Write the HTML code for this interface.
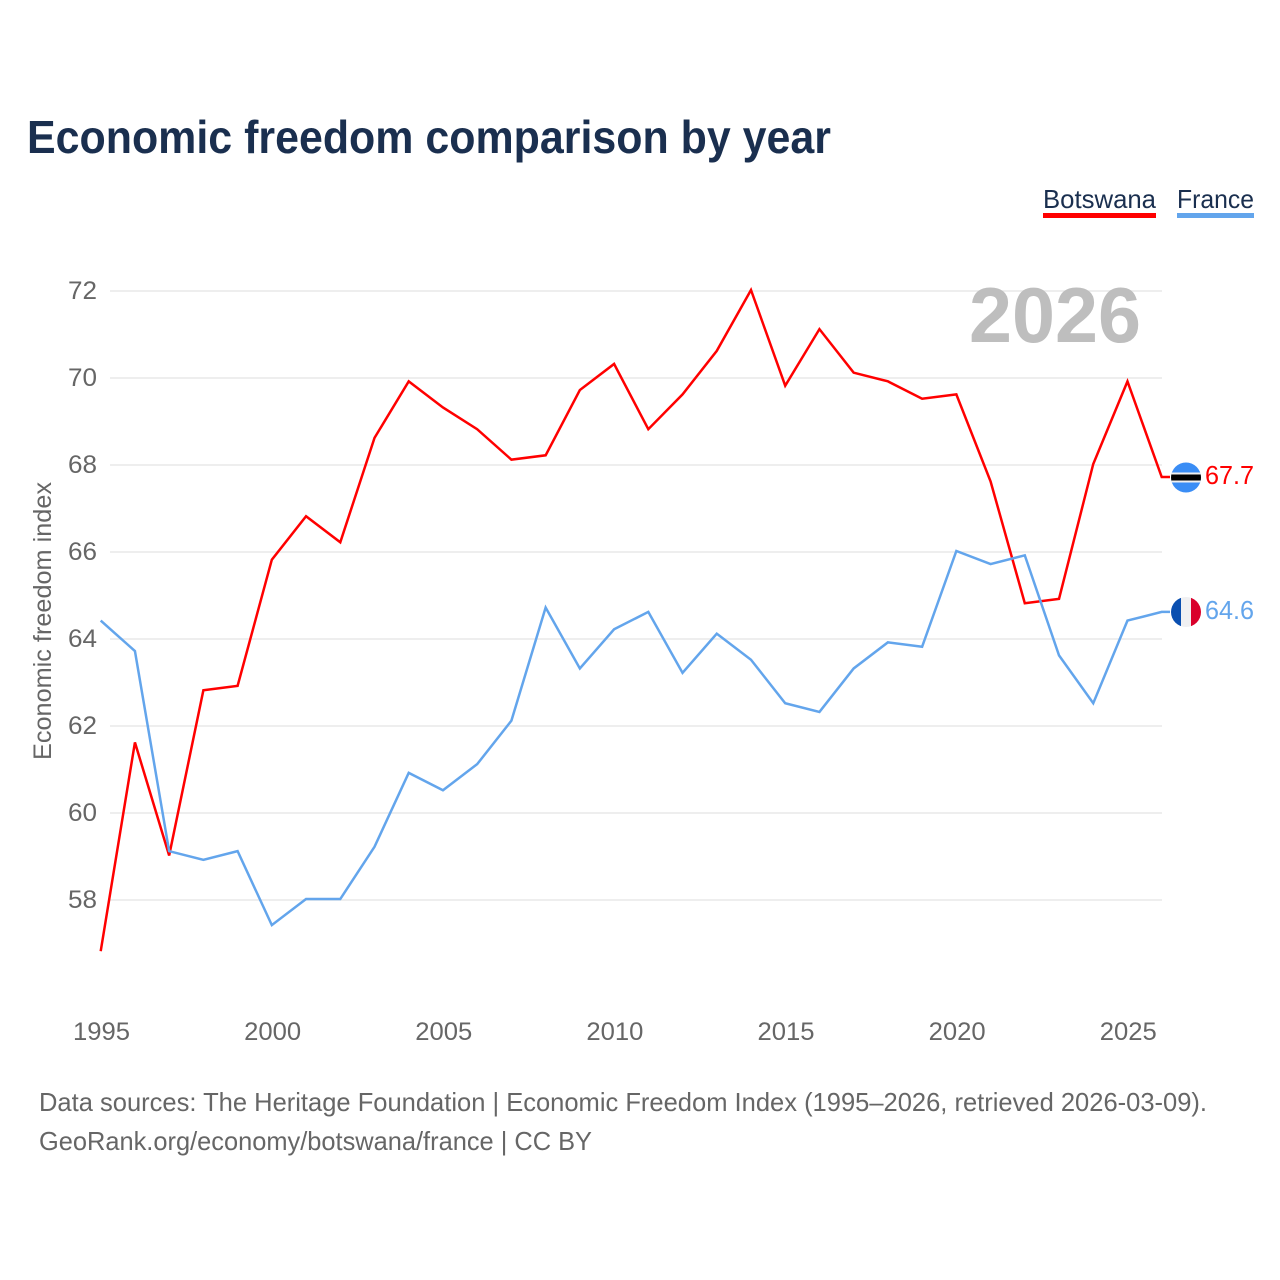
<!DOCTYPE html>
<html lang="en">
<head>
<meta charset="utf-8">
<title>Economic freedom comparison by year</title>
<style>
html,body{margin:0;padding:0;background:#fff;width:1280px;height:1280px;overflow:hidden}
svg{display:block}
text{font-family:"Liberation Sans",sans-serif}
</style>
</head>
<body>
<svg id="chart" xmlns="http://www.w3.org/2000/svg" width="1280" height="1280" viewBox="0 0 1280 1280">
  <rect width="1280" height="1280" fill="#ffffff"/>
  <text x="27" y="153" font-size="46" font-weight="700" fill="#1a2f4f" textLength="804" lengthAdjust="spacingAndGlyphs">Economic freedom comparison by year</text>

  <g>
    <text x="1043" y="208" font-size="26" fill="#1a2f4f" textLength="113" lengthAdjust="spacingAndGlyphs">Botswana</text>
    <rect x="1043" y="213" width="113" height="5" fill="#ff0000"/>
  </g>
  <g>
    <text x="1177" y="208" font-size="26" fill="#1a2f4f" textLength="77" lengthAdjust="spacingAndGlyphs">France</text>
    <rect x="1177" y="213" width="77" height="5" fill="#63a5ec"/>
  </g>

  <g id="grid"></g>
  <g id="yticks"></g>
  <g id="xticks"></g>

  <text transform="translate(51,760) rotate(-90)" font-size="25" fill="#666666" textLength="278" lengthAdjust="spacingAndGlyphs">Economic freedom index</text>
  <text x="969" y="342" font-size="78" font-weight="700" fill="#bebebe" textLength="172" lengthAdjust="spacingAndGlyphs">2026</text>

  <g id="series"></g>

  <defs>
    <clipPath id="flag-clip-bw"><circle cx="1186" cy="477.5" r="15"/></clipPath>
    <clipPath id="flag-clip-fr"><circle cx="1186" cy="612" r="15"/></clipPath>
  </defs>
  <g clip-path="url(#flag-clip-bw)">
    <rect x="1171" y="462" width="30" height="31" fill="#3a8df5"/>
    <rect x="1171" y="472.5" width="30" height="10" fill="#f0f0f0"/>
    <rect x="1171" y="474.5" width="30" height="6" fill="#000000"/>
  </g>
  <g clip-path="url(#flag-clip-fr)">
    <rect x="1171" y="597" width="10" height="30" fill="#0a4fb0"/>
    <rect x="1181" y="597" width="10" height="30" fill="#f0f0f2"/>
    <rect x="1191" y="597" width="10" height="30" fill="#d9002b"/>
  </g>
  <text id="label-bw" x="1205" y="484" font-size="26" fill="#ff0000" textLength="49" lengthAdjust="spacingAndGlyphs"></text>
  <text id="label-fr" x="1205" y="619" font-size="26" fill="#63a5ec" textLength="49" lengthAdjust="spacingAndGlyphs"></text>

  <text x="39" y="1111" font-size="26" fill="#666666" textLength="1168" lengthAdjust="spacingAndGlyphs">Data sources: The Heritage Foundation | Economic Freedom Index (1995–2026, retrieved 2026-03-09).</text>
  <text x="39" y="1150" font-size="26" fill="#666666" textLength="553" lengthAdjust="spacingAndGlyphs">GeoRank.org/economy/botswana/france | CC BY</text>
</svg>
<script>
const years = [1995,1996,1997,1998,1999,2000,2001,2002,2003,2004,2005,2006,2007,2008,2009,2010,2011,2012,2013,2014,2015,2016,2017,2018,2019,2020,2021,2022,2023,2024,2025,2026];
const botswana = [56.8,61.6,59.0,62.8,62.9,65.8,66.8,66.2,68.6,69.9,69.3,68.8,68.1,68.2,69.7,70.3,68.8,69.6,70.6,72.0,69.8,71.1,70.1,69.9,69.5,69.6,67.6,64.8,64.9,68.0,69.9,67.7];
const france = [64.4,63.7,59.1,58.9,59.1,57.4,58.0,58.0,59.2,60.9,60.5,61.1,62.1,64.7,63.3,64.2,64.6,63.2,64.1,63.5,62.5,62.3,63.3,63.9,63.8,66.0,65.7,65.9,63.6,62.5,64.4,64.6];
const yTickValues = [58,60,62,64,66,68,70,72];
const xTickValues = [1995,2000,2005,2010,2015,2020,2025];

const NS = 'http://www.w3.org/2000/svg';
const xScale = function (year) { return 100.7 + (year - 1995) * (1161.7 - 100.7) / 31; };
const yScale = function (value) { return 291 + (72 - value) * 43.5; };
const seriesY = function (value) { return yScale(value) - 1; };

const gridGroup = document.getElementById('grid');
const yTickGroup = document.getElementById('yticks');
const xTickGroup = document.getElementById('xticks');
const seriesGroup = document.getElementById('series');

yTickValues.forEach(function (v) {
  const line = document.createElementNS(NS, 'line');
  
  
  line.setAttribute('x1', 110);
  line.setAttribute('x2', 1162);
  line.setAttribute('y1', yScale(v));
  line.setAttribute('y2', yScale(v));
  line.setAttribute('stroke', '#eeeeee');
  line.setAttribute('stroke-width', 2);
  gridGroup.appendChild(line);

  const label = document.createElementNS(NS, 'text');
  
  
  label.setAttribute('x', 97);
  label.setAttribute('y', yScale(v) + 8);
  label.setAttribute('text-anchor', 'end');
  label.setAttribute('font-size', 25);
  label.setAttribute('fill', '#666666');
  label.setAttribute('textLength', 29);
  label.setAttribute('lengthAdjust', 'spacingAndGlyphs');
  label.textContent = String(v);
  yTickGroup.appendChild(label);
});

xTickValues.forEach(function (year) {
  const label = document.createElementNS(NS, 'text');
  
  
  label.setAttribute('x', xScale(year) + 0.8);
  label.setAttribute('y', 1040);
  label.setAttribute('text-anchor', 'middle');
  label.setAttribute('font-size', 25);
  label.setAttribute('fill', '#666666');
  label.setAttribute('textLength', 57);
  label.setAttribute('lengthAdjust', 'spacingAndGlyphs');
  label.textContent = String(year);
  xTickGroup.appendChild(label);
});

function linePoints(values) {
  const pts = values.map(function (v, i) { return xScale(years[i]).toFixed(2) + ',' + seriesY(v).toFixed(2); });
  pts.push('1170,' + seriesY(values[values.length - 1]).toFixed(2));
  return pts.join(' ');
}

const botswanaLine = document.createElementNS(NS, 'polyline');


botswanaLine.setAttribute('points', linePoints(botswana));
botswanaLine.setAttribute('fill', 'none');
botswanaLine.setAttribute('stroke', '#ff0000');
botswanaLine.setAttribute('stroke-width', 2.5);
botswanaLine.setAttribute('stroke-linejoin', 'miter');

const franceLine = document.createElementNS(NS, 'polyline');


franceLine.setAttribute('points', linePoints(france));
franceLine.setAttribute('fill', 'none');
franceLine.setAttribute('stroke', '#63a5ec');
franceLine.setAttribute('stroke-width', 2.5);
franceLine.setAttribute('stroke-linejoin', 'miter');

seriesGroup.appendChild(botswanaLine);
seriesGroup.appendChild(franceLine);

document.getElementById('label-bw').textContent = botswana[botswana.length - 1].toFixed(1);
document.getElementById('label-fr').textContent = france[france.length - 1].toFixed(1);
</script>
</body>
</html>
